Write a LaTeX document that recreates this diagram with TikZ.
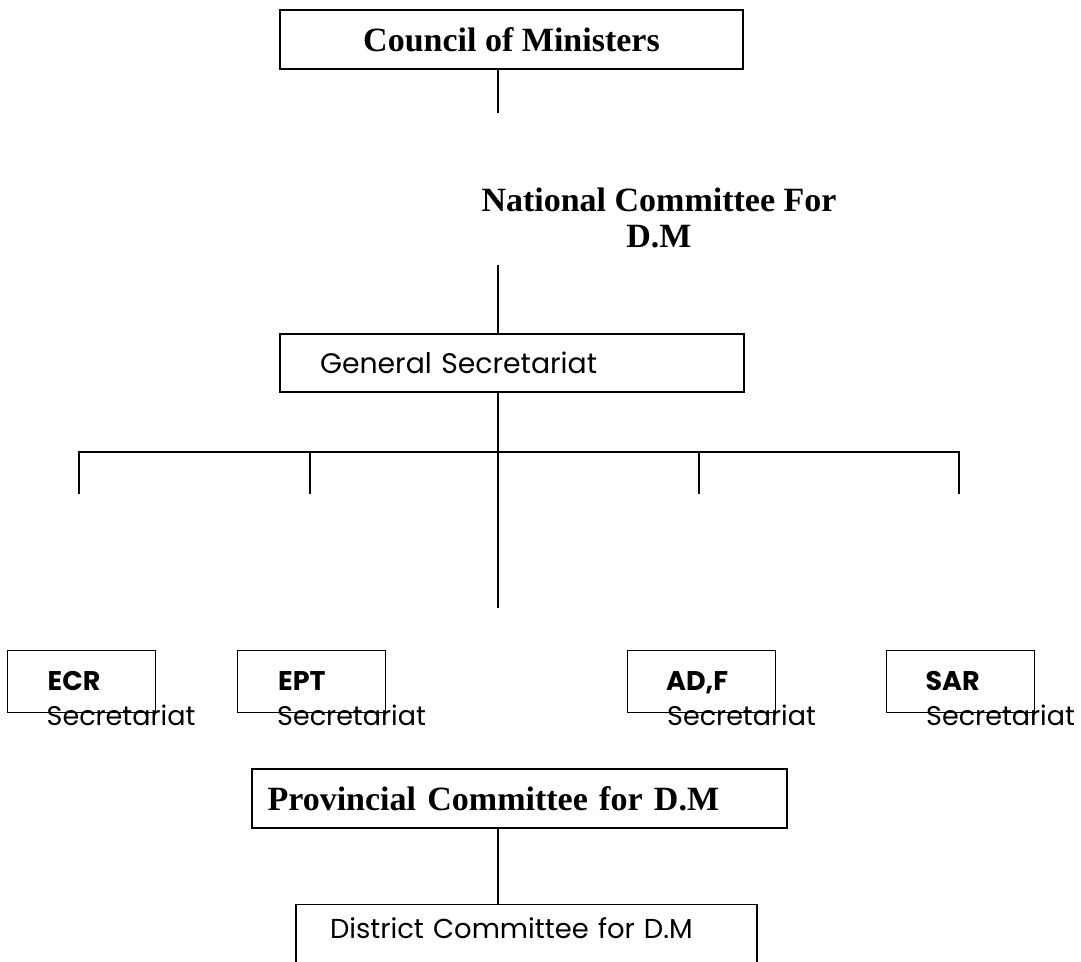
\documentclass[tikz,border=0pt]{standalone}
\usepackage{fontspec}
\setmainfont{Liberation Serif}
\newfontfamily\gothicfont{Poppins}
\tikzset{
    orgbox/.style={draw, line width=1.4pt, inner sep=0pt},
    link/.style={line width=1.4pt},
    serifhead/.style={font=\fontsize{34}{36}\selectfont\bfseries},
    gothictext/.style={font=\gothicfont\fontsize{27}{32}\selectfont, inner sep=0pt},
    gothictag/.style={font=\gothicfont\fontsize{27}{32}\selectfont\bfseries, inner sep=0pt}
}

\begin{document}
\begin{tikzpicture}[x=1pt, y=-1pt]
    \useasboundingbox (0,0) rectangle (1081,961);
    \coordinate (hub) at (498,452);

    \node[orgbox, serifhead, minimum width=463pt, minimum height=59pt] (council) at (511.5,39.5){Council of Ministers};
        \coordinate (councilend) at (498,113);
    \draw[link] (council.south -| hub) to (councilend);

    \node[serifhead, align=center, inner sep=0pt, anchor=north] (national) at (659,188){National Committee For\\D.M};
        \coordinate (nationalend) at (498,265);

    \node[orgbox, font=\gothicfont\fontsize{28.3}{34}\selectfont, text width=384pt, align=left, inner xsep=40pt, minimum height=58pt] (gensec) at (512,363){General Secretariat};
    \draw[link] (nationalend) to (gensec.north -| hub);
        \coordinate (hubend) at (498,608);
    \draw[link] (gensec.south -| hub) to (hubend);

    % branch to the four secretariats
    \coordinate (ecrdrop) at (79,494);
    \coordinate (eptdrop) at (310,494);
    \coordinate (adfdrop) at (699,494);
    \coordinate (sardrop) at (959,494);
    \draw[link] (ecrdrop) to (ecrdrop |- hub) to (sardrop |- hub) to (sardrop);
    \draw[link] (eptdrop) to (eptdrop |- hub);
    \draw[link] (adfdrop) to (adfdrop |- hub);

    % secretariats
    \node[orgbox, minimum width=148pt, minimum height=62pt] (ecr) at (81.6,681.5){};
        \node[gothictag, anchor=base west] (ecrtag) at (47.5,690){ECR};
        \node[gothictext, anchor=base west] (ecrsec) at (46.5,725){Secretariat};
    \node[orgbox, minimum width=148pt, minimum height=62pt] (ept) at (311.6,681.5){};
        \node[gothictag, anchor=base west] (epttag) at (278,690){EPT};
        \node[gothictext, anchor=base west] (eptsec) at (277,725){Secretariat};
    \node[orgbox, minimum width=148pt, minimum height=62pt] (adf) at (701.5,681.5){};
        \node[gothictag, anchor=base west] (adftag) at (666,690){AD,F};
        \node[gothictext, anchor=base west] (adfsec) at (667,725){Secretariat};
    \node[orgbox, minimum width=148pt, minimum height=62pt] (sar) at (960.5,681.5){};
        \node[gothictag, anchor=base west] (sartag) at (925.4,690){SAR};
        \node[gothictext, anchor=base west] (sarsec) at (926,725){Secretariat};

    \node[orgbox, serifhead, text width=504pt, align=left, inner xsep=15.5pt, minimum height=59pt] (province) at (519.5,798.5){Provincial Committee for D.M};
    \node[orgbox, font=\gothicfont\fontsize{27.4}{32}\selectfont, text width=393pt, align=left, inner xsep=34pt, inner ysep=14pt, text height=20pt, text depth=30pt, anchor=north] (district) at (526.5,904){District Committee for D.M};
    \draw[link] (province.south -| hub) to (district.north -| hub);
\end{tikzpicture}
\end{document}
